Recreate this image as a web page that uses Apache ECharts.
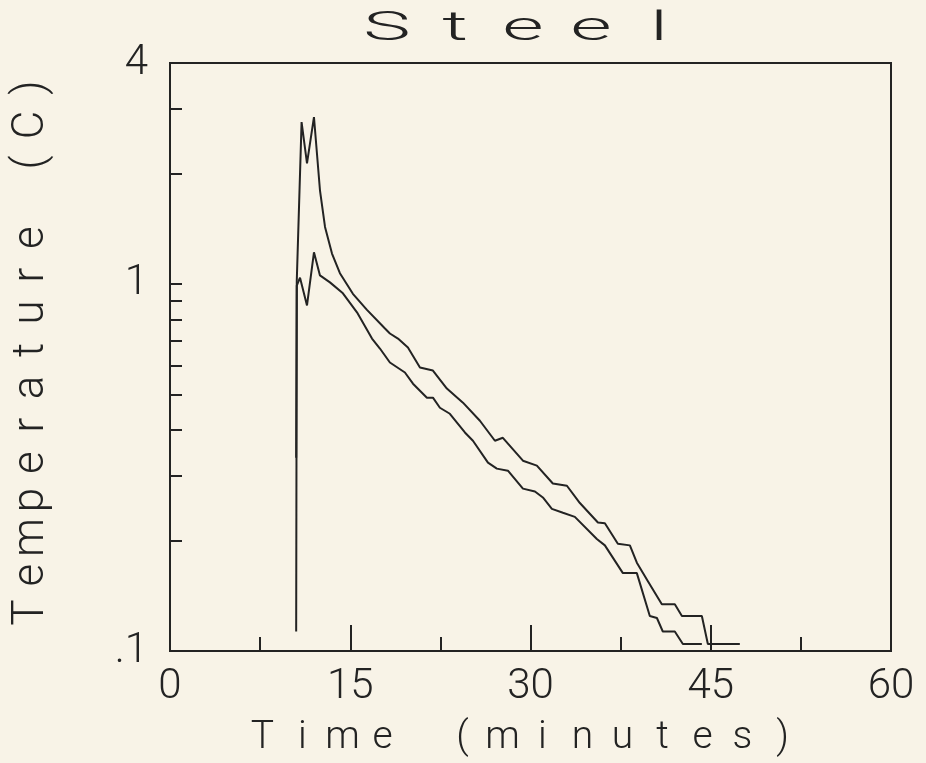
<!DOCTYPE html>
<html>
<head>
<meta charset="utf-8">
<script src="https://cdn.jsdelivr.net/npm/echarts@6/dist/echarts.min.js"></script>
<style>
  html, body { margin: 0; padding: 0; background: #f8f3e7; }
  #chart { width: 926px; height: 763px; }
</style>
</head>
<body>
<div id="chart"></div>
<script>
// upper trace (minutes, deg C)
const upperTime = [10.5, 10.55, 10.95, 11.4, 11.98, 12.48, 12.9, 13.48, 14.14, 15.22, 16.39, 17.89, 18.3, 18.97, 19.8, 20.8, 21.88, 23.04, 24.38, 25.79, 27.04, 27.7, 29.37, 30.53, 31.86, 33.03, 34.11, 35.61, 36.19, 37.27, 38.27, 38.85, 39.77, 40.93, 42.01, 42.6, 44.26, 44.76, 47.42];
const upperTemp = [0.336, 1.02, 2.76, 2.13, 2.85, 1.80, 1.43, 1.21, 1.07, 0.94, 0.85, 0.756, 0.733, 0.71, 0.671, 0.592, 0.581, 0.519, 0.475, 0.424, 0.374, 0.381, 0.33, 0.32, 0.286, 0.282, 0.253, 0.224, 0.223, 0.196, 0.194, 0.174, 0.155, 0.134, 0.134, 0.1246, 0.1246, 0.1045, 0.1045];

// lower trace
const lowerTime = [10.5, 10.55, 10.82, 11.4, 11.98, 12.48, 13.31, 14.39, 15.56, 16.81, 17.47, 18.3, 19.55, 20.22, 21.38, 21.88, 22.46, 23.29, 24.54, 25.21, 26.46, 27.2, 28.12, 29.37, 30.37, 31.03, 31.78, 32.7, 33.69, 35.52, 36.19, 37.69, 38.85, 39.93, 40.52, 41.01, 42.01, 42.68, 44.26];
const lowerTemp = [0.113, 0.99, 1.04, 0.874, 1.22, 1.055, 1.01, 0.943, 0.837, 0.71, 0.667, 0.611, 0.574, 0.535, 0.49, 0.49, 0.46, 0.443, 0.394, 0.374, 0.326, 0.314, 0.31, 0.277, 0.272, 0.262, 0.244, 0.238, 0.232, 0.202, 0.194, 0.163, 0.163, 0.1246, 0.123, 0.113, 0.113, 0.1045, 0.1045];

const yTickValues = [0.2, 0.3, 0.4, 0.5, 0.6, 0.7, 0.8, 0.9, 1, 2, 3];
const yLabelValues = [0.1, 1, 4];

const ink = '#232323';
const font = 'Roboto';

// one fixed-width cell per character, like the plotter lettering
function cells(str, key) {
  return str.split('').map(ch => '{' + key + '|' + ch + '}').join('');
}

function zip(xs, ys) {
  return xs.map((x, i) => [x, ys[i]]);
}

const chart = echarts.init(document.getElementById('chart'));

const option = {
  backgroundColor: '#f8f3e7',
  animation: false,
  grid: {
    left: 170, right: 35, top: 63, bottom: 112,
    show: true, borderColor: ink, borderWidth: 2, backgroundColor: 'transparent'
  },
  graphic: [{
    type: 'text',
    x: 523, y: 30,
    scaleX: 2,
    style: {
      text: cells('Steel', 't'),
      align: 'center',
      verticalAlign: 'middle',
      rich: {
        t: { width: 34, align: 'center', fontSize: 40, fontWeight: 300, fontFamily: font, fill: ink }
      }
    }
  }],
  xAxis: {
    type: 'value',
    min: 0, max: 60, interval: 15,
    axisLine: { show: true, lineStyle: { color: ink, width: 2 } },
    axisTick: { show: true, inside: true, length: 26, lineStyle: { color: ink, width: 2 } },
    minorTick: { show: true, splitNumber: 2, length: 14, lineStyle: { color: ink, width: 2 } },
    splitLine: { show: false },
    axisLabel: { margin: 15, fontSize: 42, fontWeight: 300, fontFamily: font, color: ink },
    name: cells('Time (minutes)', 'n'),
    nameLocation: 'middle',
    nameGap: 68,
    nameTextStyle: {
      padding: [0, 16, 0, 0],
      rich: {
        n: { width: 40, align: 'center', fontSize: 39, fontWeight: 300, fontFamily: font, color: ink }
      }
    }
  },
  yAxis: {
    type: 'log', logBase: 10,
    min: 0.1, max: 4,
    axisLine: { show: true, lineStyle: { color: ink, width: 2 } },
    axisTick: { show: true, inside: true, length: 12, customValues: yTickValues, lineStyle: { color: ink, width: 2 } },
    minorTick: { show: false },
    splitLine: { show: false },
    axisLabel: {
      customValues: yLabelValues,
      margin: 22, fontSize: 42, fontWeight: 300, fontFamily: font, color: ink,
      formatter: v => (Math.abs(v - 0.1) < 1e-9 ? '.1' : String(Math.round(v)))
    },
    name: cells('Temperature (C)', 'n'),
    nameLocation: 'middle',
    nameGap: 116,
    nameTextStyle: {
      padding: [0, 0, 0, 14],
      rich: {
        n: { width: 37.5, align: 'center', fontSize: 44, fontWeight: 300, fontFamily: font, color: ink }
      }
    }
  },
  series: [
    {
      type: 'line',
      data: zip(upperTime, upperTemp),
      showSymbol: false,
      lineStyle: { color: ink, width: 2 }
    },
    {
      type: 'line',
      data: zip(lowerTime, lowerTemp),
      showSymbol: false,
      lineStyle: { color: ink, width: 2 }
    }
  ]
};

chart.setOption(option);
</script>
</body>
</html>
